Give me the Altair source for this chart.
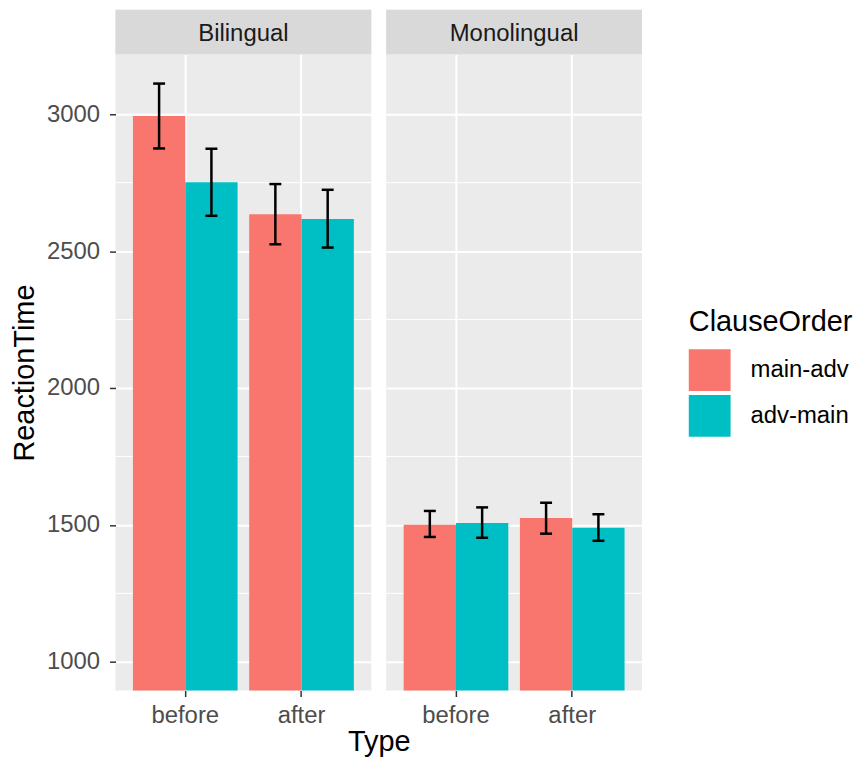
import altair as alt
import pandas as pd

groups = ["Bilingual", "Monolingual"]
types = ["before", "after"]
orders = ["main-adv", "adv-main"]

group_col = ["Bilingual"] * 4 + ["Monolingual"] * 4
type_col = ["before", "before", "after", "after"] * 2
order_col = ["main-adv", "adv-main"] * 4
rt_mean = [2994, 2752, 2635, 2617, 1501, 1507, 1525, 1490]
rt_lower = [2875, 2629, 2525, 2513, 1456, 1453, 1468, 1442]
rt_upper = [3112, 2874, 2745, 2724, 1551, 1564, 1581, 1539]

y_ticks = [1000, 1500, 2000, 2500, 3000]
minor_breaks = [1250, 1750, 2250, 2750]
y_domain = [895, 3218]
colors = ["#F8766D", "#00BFC4"]

FONT = "Liberation Sans"
PW, PH, SH, GAP = 257, 639, 45, 15

df = pd.DataFrame({
    "Group": group_col,
    "Type": type_col,
    "ClauseOrder": order_col,
    "RT": rt_mean,
    "lower": rt_lower,
    "upper": rt_upper,
})
minor_df = pd.DataFrame({"minor": minor_breaks})

y_scale = alt.Scale(domain=y_domain, nice=False, zero=False)
xo_enc = alt.XOffset("ClauseOrder:N", sort=orders,
                     scale=alt.Scale(paddingInner=0, paddingOuter=0))
color_enc = alt.Color(
    "ClauseOrder:N", sort=orders,
    scale=alt.Scale(domain=orders, range=colors),
    legend=alt.Legend(title="ClauseOrder", orient="none", legendX=576, legendY=300,
                      titleFontSize=29, titleFont=FONT, titleFontWeight="normal",
                      titleColor="black", labelFontSize=24, labelFont=FONT,
                      labelColor="black", symbolType="square", symbolSize=1764,
                      symbolStrokeWidth=0, symbolOpacity=1, rowPadding=4,
                      labelOffset=20, titlePadding=12),
)


def make_panel(g, first):
    d = df[df["Group"] == g]
    if first:
        x_axis = alt.Axis(title="Type", titleX=(2 * PW + GAP) / 2, titleFontSize=29,
                          titleColor="black", titleFont=FONT, titleFontWeight="normal",
                          titlePadding=0,
                          labelFontSize=24, labelColor="#4D4D4D", labelFont=FONT,
                          tickColor="#333333", tickSize=6, tickWidth=1.5, labelPadding=7,
                          grid=True, gridColor="white", gridWidth=2, domain=False,
                          labelAngle=0, bandPosition=0.5)
        y_axis = alt.Axis(values=y_ticks, format="d", title="ReactionTime", titleFontSize=29,
                          titleColor="black", titleFont=FONT, titleFontWeight="normal",
                          labelFontSize=24, labelColor="#4D4D4D", labelFont=FONT,
                          tickColor="#333333", tickSize=6, tickWidth=1.5, labelPadding=10,
                          titlePadding=7, grid=True, gridColor="white", gridWidth=2,
                          domain=False)
    else:
        x_axis = alt.Axis(title=None,
                          labelFontSize=24, labelColor="#4D4D4D", labelFont=FONT,
                          tickColor="#333333", tickSize=6, tickWidth=1.5, labelPadding=7,
                          grid=True, gridColor="white", gridWidth=2, domain=False,
                          labelAngle=0, bandPosition=0.5)
        y_axis = alt.Axis(values=y_ticks, title=None, labels=False, ticks=False,
                          grid=True, gridColor="white", gridWidth=2, domain=False)
    x_enc = alt.X("Type:N", sort=types,
                  scale=alt.Scale(paddingInner=0.1, paddingOuter=0.15), axis=x_axis)

    minor = alt.Chart(minor_df).mark_rule(color="white", strokeWidth=1).encode(
        y=alt.Y("minor:Q", scale=y_scale, axis=y_axis)
    )
    bars = alt.Chart(d).mark_bar(clip=True).encode(
        x=x_enc, xOffset=xo_enc,
        y=alt.Y("RT:Q", scale=y_scale, axis=y_axis),
        color=color_enc,
    )
    err = alt.Chart(d).mark_rule(strokeWidth=2.5, color="black").encode(
        x=x_enc, xOffset=xo_enc, y=alt.Y("lower:Q"), y2="upper:Q"
    )
    cap_lo = alt.Chart(d).mark_tick(thickness=2.5, size=12, color="black",
                                    orient="horizontal", opacity=1).encode(
        x=x_enc, xOffset=xo_enc, y=alt.Y("lower:Q")
    )
    cap_hi = alt.Chart(d).mark_tick(thickness=2.5, size=12, color="black",
                                    orient="horizontal", opacity=1).encode(
        x=x_enc, xOffset=xo_enc, y=alt.Y("upper:Q")
    )
    return alt.layer(minor, bars, err, cap_lo, cap_hi).properties(width=PW, height=PH)


def make_strip(g):
    sd = pd.DataFrame({"Group": [g]})
    rect = alt.Chart(sd).mark_rect(color="#D9D9D9").encode(
        x=alt.value(0), x2=alt.value("width"), y=alt.value(0), y2=alt.value("height")
    )
    txt = alt.Chart(sd).mark_text(fontSize=24, font=FONT, color="#1A1A1A",
                                  baseline="alphabetic", align="center").encode(
        x=alt.value(PW / 2), y=alt.value(31.7), text="Group:N"
    )
    return alt.layer(rect, txt).properties(width=PW, height=SH)


chart = alt.concat(
    make_strip(groups[0]), make_strip(groups[1]),
    make_panel(groups[0], True), make_panel(groups[1], False),
    columns=2, spacing={"row": 0, "column": GAP}, bounds="flush",
).properties(
    padding={"left": 2, "top": 0, "right": 2, "bottom": 0}
).configure(font=FONT).configure_view(fill="#EBEBEB", strokeWidth=0)

chart.save("out.html", embed_options={"renderer": "svg", "actions": False})
